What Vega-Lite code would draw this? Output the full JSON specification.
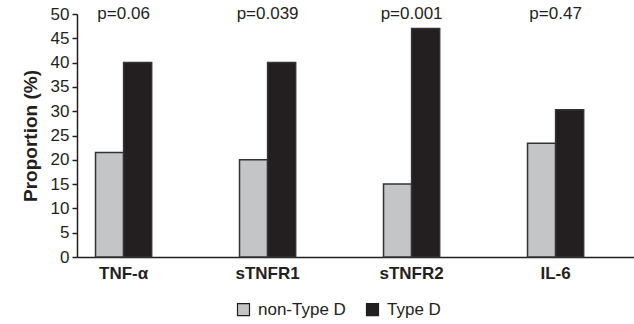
{
  "$schema": "https://vega.github.io/schema/vega-lite/v6.json",
  "width": 557,
  "height": 243,
  "autosize": "none",
  "padding": {"left": 77, "top": 14, "right": 0, "bottom": 67},
  "background": "white",
  "config": {
    "font": "Liberation Sans",
    "view": {"stroke": null},
    "axis": {"grid": false, "domainColor": "#231f20", "tickColor": "#231f20", "labelColor": "#231f20", "titleColor": "#231f20"},
    "axisY": {"labelOverlap": false, "tickCount": 11, "labelFontSize": 17, "tickSize": 5, "tickWidth": 1.5, "domainWidth": 1.5, "labelPadding": 3, "titleFontSize": 19, "titleFontWeight": "bold", "titlePadding": 10}
  },
  "datasets": {
    "bars": [
      {"marker": "TNF-α", "group": "non-Type D", "value": 21.5},
      {"marker": "TNF-α", "group": "Type D", "value": 40},
      {"marker": "sTNFR1", "group": "non-Type D", "value": 20},
      {"marker": "sTNFR1", "group": "Type D", "value": 40},
      {"marker": "sTNFR2", "group": "non-Type D", "value": 15},
      {"marker": "sTNFR2", "group": "Type D", "value": 47},
      {"marker": "IL-6", "group": "non-Type D", "value": 23.4},
      {"marker": "IL-6", "group": "Type D", "value": 30.3}
    ],
    "pvals": [
      {"marker": "TNF-α", "label": "p=0.06"},
      {"marker": "sTNFR1", "label": "p=0.039"},
      {"marker": "sTNFR2", "label": "p=0.001"},
      {"marker": "IL-6", "label": "p=0.47"}
    ]
  },
  "encoding": {
    "x": {
      "field": "marker", "type": "nominal",
      "sort": ["TNF-α", "sTNFR1", "sTNFR2", "IL-6"],
      "scale": {"paddingInner": 0.61, "paddingOuter": 0.239, "align": 0.269},
      "axis": {"title": null, "labelAngle": 0, "ticks": false, "domainWidth": 1.5, "labelFontSize": 17, "labelFontWeight": "bold", "labelPadding": 8}
    }
  },
  "layer": [
    {
      "data": {"name": "bars"},
      "mark": {"type": "bar", "stroke": "#333333", "strokeWidth": 1.5},
      "encoding": {
        "xOffset": {
          "field": "group", "type": "nominal",
          "sort": ["non-Type D", "Type D"],
          "scale": {"paddingInner": 0, "paddingOuter": 0}
        },
        "y": {
          "field": "value", "type": "quantitative",
          "scale": {"domain": [0, 50], "nice": false},
          "axis": {"title": "Proportion (%)", "values": [0,5,10,15,20,25,30,35,40,45,50], "labelOverlap": false}
        },
        "color": {
          "field": "group", "type": "nominal",
          "sort": ["non-Type D", "Type D"],
          "scale": {"domain": ["non-Type D", "Type D"], "range": ["#c4c5c7", "#231f20"]},
          "legend": {
            "title": null, "orient": "none", "direction": "horizontal",
            "legendX": 158, "legendY": 287,
            "symbolType": "square", "symbolSize": 144, "symbolStrokeColor": "#231f20", "symbolStrokeWidth": 1.2,
            "labelFontSize": 17, "labelColor": "#231f20", "labelOffset": 6, "columnPadding": 18
          }
        }
      }
    },
    {
      "data": {"name": "pvals"},
      "mark": {"type": "text", "fontSize": 17, "color": "#231f20", "baseline": "alphabetic", "dy": 5},
      "encoding": {
        "y": {"datum": 50, "type": "quantitative"},
        "text": {"field": "label"}
      }
    }
  ]
}
